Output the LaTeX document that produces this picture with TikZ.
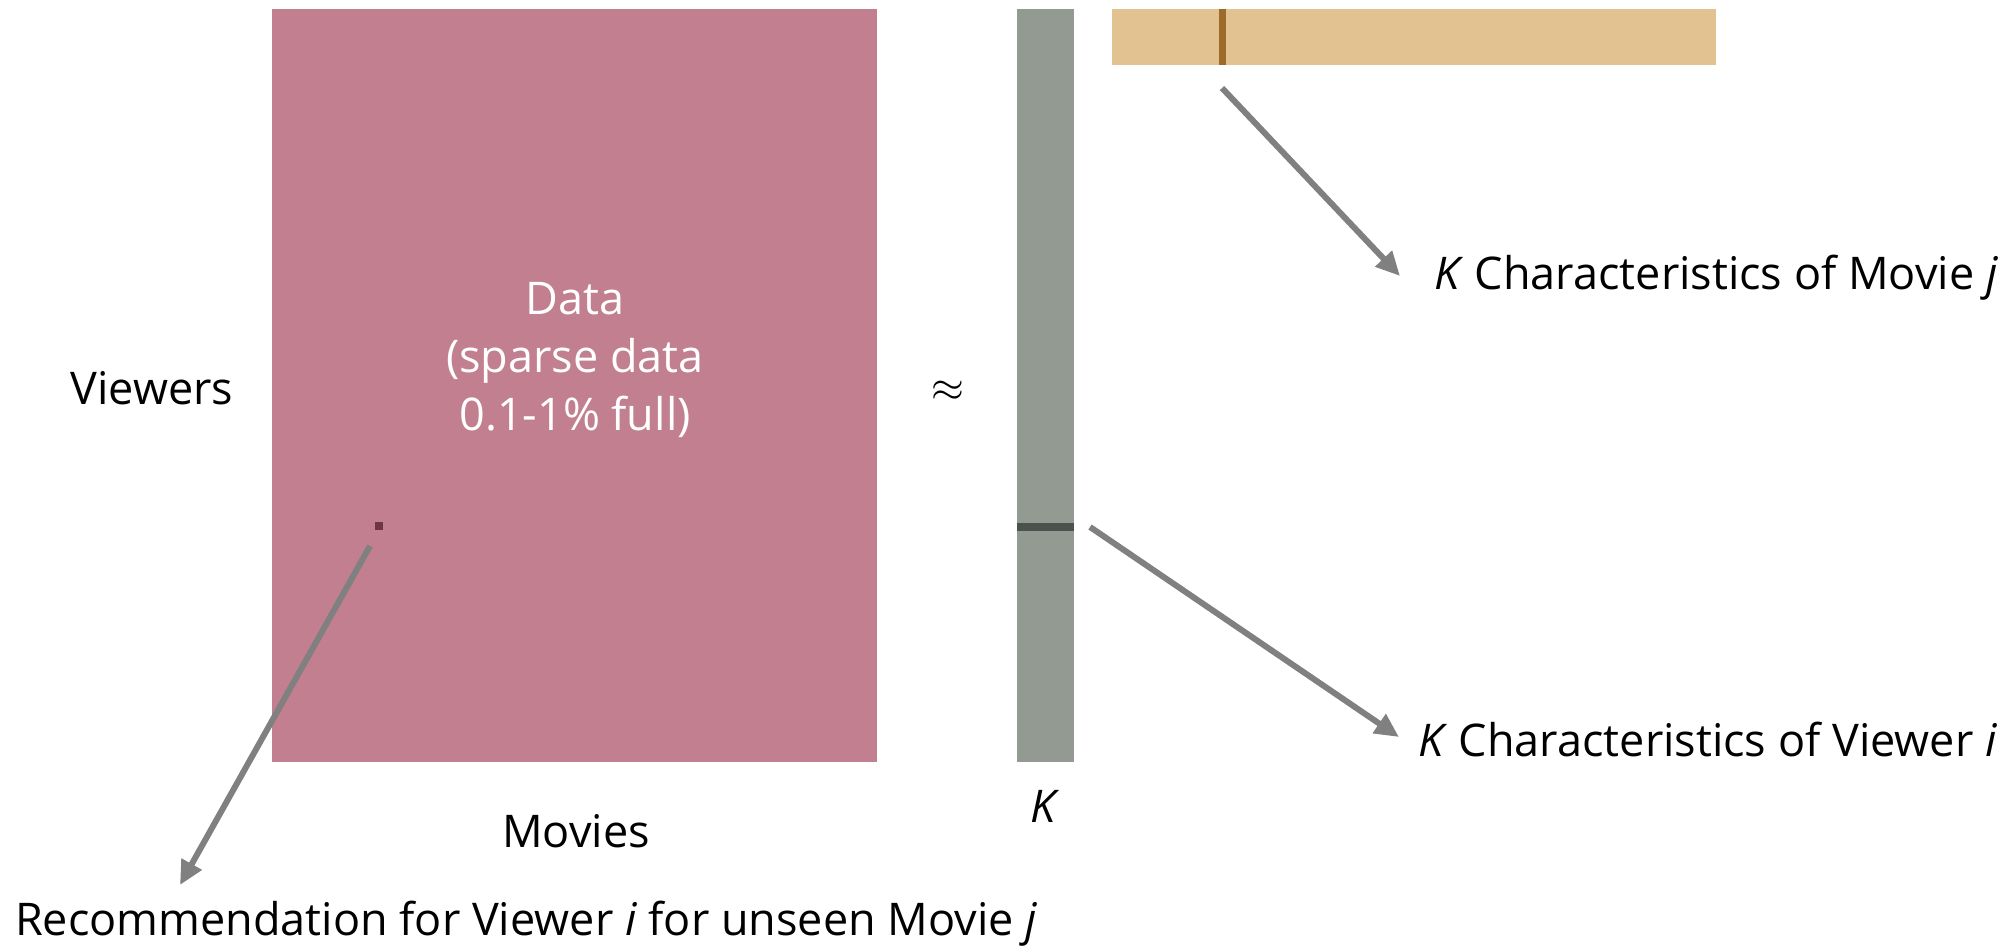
\documentclass[tikz,border=0pt]{standalone}
\usepackage{fontspec}
\setmainfont{Open Sans}
\usetikzlibrary{arrows.meta}

\definecolor{ratingpink}{RGB}{194,127,144}
\definecolor{viewergray}{RGB}{147,154,146}
\definecolor{viewerdark}{RGB}{75,82,77}
\definecolor{moviegold}{RGB}{226,194,145}
\definecolor{moviebrown}{RGB}{156,107,42}
\definecolor{celldot}{RGB}{110,53,69}
\definecolor{arrowgray}{RGB}{128,128,128}

\tikzset{
  block/.style={inner sep=0pt, outer sep=0pt},
  pointer/.style={draw=arrowgray, line width=0.06cm, -{Triangle[length=0.24cm,width=0.22cm]}},
}

\begin{document}
\begin{tikzpicture}[x=0.01cm, y=-0.01cm, font=\fontsize{12.8}{16.5}\selectfont]
            \useasboundingbox (0,0) rectangle (2016,952);

            % the matrix and its two factors
            \node[block, fill=ratingpink, minimum width=6.04cm, minimum height=7.53cm] (data) at (574.5,385.5) {};
            \node[block, fill=viewergray, minimum width=0.57cm, minimum height=7.53cm] (viewers) at (1045.5,385.5) {};
            \node[block, fill=moviegold, minimum width=6.04cm, minimum height=0.56cm] (movies) at (1414,37) {};

            \node[block, fill=viewerdark, minimum width=0.57cm, minimum height=0.08cm] (rowi) at (1045.5,527) {};
            \node[block, fill=moviebrown, minimum width=0.07cm, minimum height=0.56cm] (colj) at (1222,37) {};
            \node[block, fill=celldot, minimum size=0.08cm] (cellij) at (379,526) {};

            % texts
            \node[white, align=center] (datatxt) at (575,360) {Data\\(sparse data\\0.1-1\% full)};
            \node (viewerstxt) at (152,388) {Viewers};
            \node (approx) at (948,391) {$\approx$};
            \node (moviestxt) at (576,831) {Movies};
            \node (ktxt) at (1045,806) {\textit{K}};
            \node[block, anchor=west] (movietxt) at (1434,278) {\textit{K} Characteristics of Movie \textit{j}};
            \node[block, anchor=west] (viewertxt) at (1418,739) {\textit{K} Characteristics of Viewer \textit{i}};
            \node[block, anchor=west] (rectxt) at (15,924) {Recommendation for Viewer \textit{i} for unseen Movie \textit{j}};

            % pointers
            \draw[pointer] ([yshift=-0.23cm]colj.south) -- ([shift={(-34,-2)}]movietxt.west);
            \draw[pointer] ([xshift=0.16cm]rowi.east) -- ([shift={(-19,-2)}]viewertxt.west);
            \draw[pointer] ([shift={(-9,16)}]cellij.south) -- ([shift={(165,-39)}]rectxt.west);
\end{tikzpicture}
\end{document}
